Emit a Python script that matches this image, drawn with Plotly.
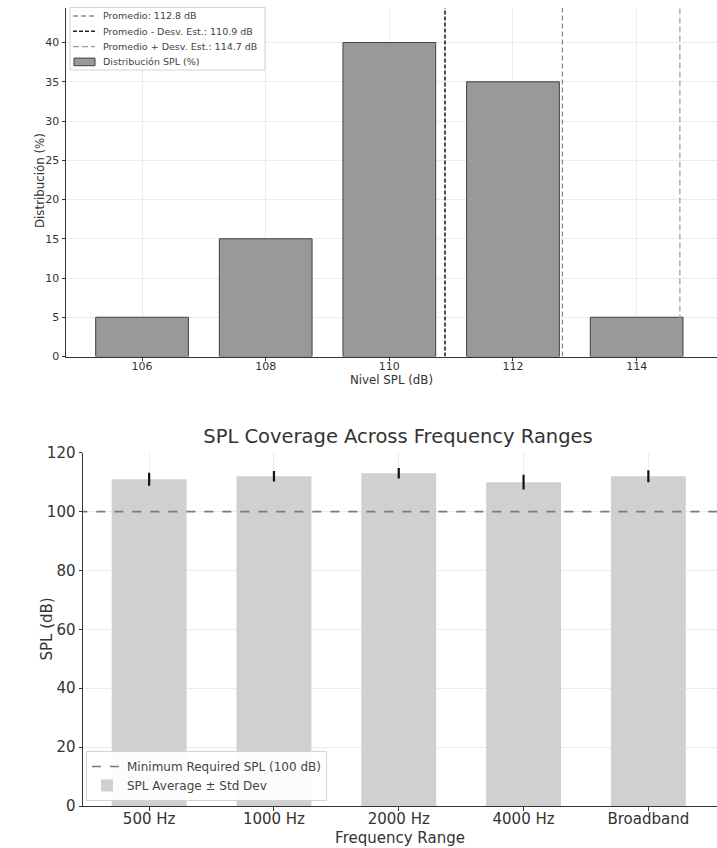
import plotly.graph_objects as go

# ---- Data: top chart (distribution) ----
spl_levels = [106, 108, 110, 112, 114]
dist_pct = [5, 15, 40, 35, 5]
mean_spl = 112.8
std_low = 110.9
std_high = 114.7

# ---- Data: bottom chart (coverage) ----
freq_labels = ["500 Hz", "1000 Hz", "2000 Hz", "4000 Hz", "Broadband"]
spl_avg = [111, 112, 113, 110, 112]
spl_std = [2.2, 1.8, 1.8, 2.5, 2.0]
min_required = 100

W, H = 717, 848
FONT = "DejaVu Sans"
TOP_YMAX = 44.4

def fx(px):
    return px / W

def fy(py):
    return (H - py) / H

fig = go.Figure()

# styles for the top chart lines
line_styles = [
    (f"Promedio: {mean_spl} dB", mean_spl, dict(color="#8a8a8a", dash="5px,3px", width=1.3)),
    (f"Promedio - Desv. Est.: {std_low} dB", std_low, dict(color="#222222", dash="4px,2px", width=1.6)),
    (f"Promedio + Desv. Est.: {std_high} dB", std_high, dict(color="#9a9a9a", dash="6px,3px", width=1.2)),
]
bar_name = "Distribución SPL (%)"
bar_fill, bar_edge = "#999999", "#404040"

for name, xv, ls in line_styles:
    fig.add_trace(go.Scatter(x=[xv, xv], y=[0, TOP_YMAX], mode="lines", line=ls,
                             name=name, xaxis="x", yaxis="y", showlegend=False))
fig.add_trace(go.Bar(x=spl_levels, y=dist_pct, width=1.5,
                     marker=dict(color=bar_fill, line=dict(color=bar_edge, width=1)),
                     name=bar_name, xaxis="x", yaxis="y", showlegend=False))

# --- bottom chart traces ---
xpos = list(range(len(freq_labels)))
fig.add_trace(go.Scatter(
    x=[-1, len(freq_labels) + 1], y=[min_required, min_required], mode="lines",
    line=dict(color="#7a7a7a", dash="dash", width=1.6),
    name=f"Minimum Required SPL ({min_required} dB)", xaxis="x2", yaxis="y2", legend="legend2"))
fig.add_trace(go.Bar(
    x=xpos, y=spl_avg, width=0.6,
    marker=dict(color="#d0d0d0", line=dict(width=0)),
    error_y=dict(type="data", array=spl_std, color="#111111", thickness=2.2, width=0),
    name="SPL Average ± Std Dev", xaxis="x2", yaxis="y2", legend="legend2"))

# --- custom legend for the top chart (compact, like the reference) ---
shapes = [dict(type="rect", xref="paper", yref="paper", x0=fx(70), x1=fx(265), y0=fy(70), y1=fy(7.5),
               fillcolor="rgba(255,255,255,0.92)", line=dict(color="#d4d4d4", width=1), layer="above")]
annotations = []
row_y = [16, 31.3, 46.6, 61.9]
for i, (name, _, ls) in enumerate(line_styles):
    yy = fy(row_y[i])
    shapes.append(dict(type="line", xref="paper", yref="paper", x0=fx(73), x1=fx(95), y0=yy, y1=yy,
                       line=ls, layer="above"))
    annotations.append(dict(text=name, xref="paper", yref="paper", x=fx(101), y=yy,
                            xanchor="left", yanchor="middle", showarrow=False,
                            font=dict(size=9.5, color="#444444", family=FONT)))
yy = fy(row_y[3])
shapes.append(dict(type="rect", xref="paper", yref="paper", x0=fx(74), x1=fx(95),
                   y0=fy(row_y[3] + 3.8), y1=fy(row_y[3] - 3.8),
                   fillcolor=bar_fill, line=dict(color=bar_edge, width=1), layer="above"))
annotations.append(dict(text=bar_name, xref="paper", yref="paper", x=fx(101), y=yy,
                        xanchor="left", yanchor="middle", showarrow=False,
                        font=dict(size=9.5, color="#444444", family=FONT)))

# y-axis titles placed precisely
annotations.append(dict(text="Distribución (%)", xref="paper", yref="paper", x=fx(40), y=fy(181),
                        xanchor="center", yanchor="middle", textangle=-90, showarrow=False,
                        font=dict(size=11.8, color="#333333", family=FONT)))
annotations.append(dict(text="SPL (dB)", xref="paper", yref="paper", x=fx(46), y=fy(629.5),
                        xanchor="center", yanchor="middle", textangle=-90, showarrow=False,
                        font=dict(size=15, color="#333333", family=FONT)))

grid = "#ececec"
axis_common = dict(showline=True, linecolor="#333333", ticks="outside", ticklen=3.5,
                   tickcolor="#333333", showgrid=True, gridcolor=grid, zeroline=False,
                   automargin=False)

fig.update_layout(
    width=W, height=H,
    margin=dict(l=0, r=0, t=0, b=0),
    paper_bgcolor="white", plot_bgcolor="white",
    font=dict(family=FONT, color="#333333"),
    template="none",
    barmode="overlay",
    shapes=shapes,
    annotations=annotations,
    xaxis=dict(domain=[fx(66), 1], anchor="y", range=[104.77, 115.3],
               tickvals=spl_levels, tickfont=dict(size=11), ticklabelstandoff=-4,
               title=dict(text="Nivel SPL (dB)", font=dict(size=11.8), standoff=2),
               **axis_common),
    yaxis=dict(domain=[fy(356.5), fy(8)], anchor="x", range=[0, TOP_YMAX],
               tickvals=[0, 5, 10, 15, 20, 25, 30, 35, 40], tickfont=dict(size=11),
               **axis_common),
    xaxis2=dict(domain=[fx(83), 1], anchor="y2", range=[-0.53, 4.55],
                tickvals=xpos, ticktext=freq_labels, tickfont=dict(size=15), ticklabelstandoff=-5,
                title=dict(text="Frequency Range", font=dict(size=15), standoff=5),
                **axis_common),
    yaxis2=dict(domain=[fy(806), fy(452.7)], anchor="x2", range=[0, 120],
                tickvals=[0, 20, 40, 60, 80, 100, 120], tickfont=dict(size=15),
                **axis_common),
    title=dict(text="SPL Coverage Across Frequency Ranges", font=dict(size=19.5, color="#333333"),
               x=fx(398), xanchor="center", xref="paper", y=fy(436), yanchor="middle", yref="paper"),
    legend2=dict(x=fx(86), y=fy(801), xanchor="left", yanchor="bottom",
                 bgcolor="rgba(255,255,255,0.92)", bordercolor="#d4d4d4", borderwidth=1,
                 font=dict(size=12, color="#444444"), tracegroupgap=0, itemwidth=30),
)

fig.write_html("out.html", config={"displayModeBar": False},
               post_script="document.body.style.margin='0';document.body.style.overflow='hidden';")
